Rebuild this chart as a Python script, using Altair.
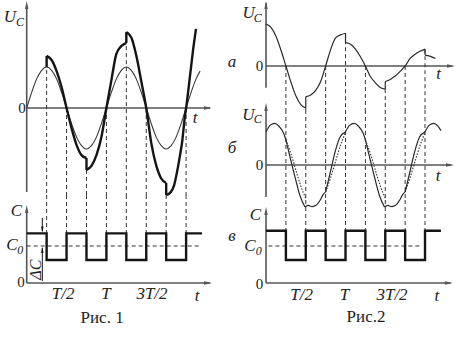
import altair as alt
import pandas as pd

# ================= DATA =================
# ---- Рис. 1 (t in units of T, U in units of the free amplitude) ----
L_thin_t = [0, .0625, .125, .1875, .25, .3125, .375, .4375, .5, .5625, .625, .6875,
            .75, .8125, .875, .9375, 1.0, 1.0625, 1.125, 1.1875, 1.25, 1.3125, 1.375,
            1.4375, 1.5, 1.5625, 1.625, 1.6875, 1.75, 1.8125, 1.875, 1.9375, 2.0,
            2.0625, 2.125, 2.175]
L_thin_u = [0, .38, .71, .92, 1, .92, .71, .38, 0, -.38, -.71, -.92,
            -1, -.92, -.71, -.38, 0, .38, .71, .92, 1, .92, .71,
            .38, 0, -.38, -.71, -.92, -1, -.92, -.71, -.38, 0,
            .38, .71, .90]
L_thick = {
    "A": ([.25, .3125, .375, .4375, .5, .5625, .625, .6875, .75],
          [1.27, 1.17, .90, .51, 0, -.49, -.90, -1.15, -1.22]),
    "B": ([.75, .8125, .875, .9375, 1.0, 1.0625, 1.125, 1.1875, 1.25],
          [-1.51, -1.41, -1.15, -.71, 0, .68, 1.32, 1.51, 1.59]),
    "C": ([1.25, 1.3125, 1.375, 1.4375, 1.5, 1.5625, 1.625, 1.6875, 1.75],
          [1.85, 1.72, 1.28, .65, 0, -.85, -1.40, -1.72, -1.83]),
    "D": ([1.75, 1.8, 1.85, 1.886, 1.924, 1.95, 1.987, 2.0, 2.05, 2.087, 2.124],
          [-2.12, -2.07, -1.88, -1.56, -1.15, -.83, -.17, 0, .80, 1.41, 1.93]),
}
L_jump_t = [.25, .75, 1.25, 1.75]
L_jump_from = [1.0, -1.22, 1.59, -1.83]
L_jump_to = [1.27, -1.51, 1.85, -2.12]
L_mark_t = [.25, .5, .75, 1.0, 1.25, 1.5, 1.75, 2.0]
L_mark_u = [1.27, 0, -1.51, 0, 1.85, 0, -2.12, 0]
L_C_t = [0, .25, .5, .75, 1.0, 1.25, 1.5, 1.75, 2.0, 2.2]
L_C_v = [1.34, .62, 1.34, .62, 1.34, .62, 1.34, .62, 1.34, 1.34]
L_C0 = 1.0

# ---- Рис. 2 ----
Ra = {
    "1": ([0, .0625, .125, .1875, .25, .3125, .375, .4375, .5],
          [1.0, .92, .71, .38, 0, -.38, -.71, -.92, -1.0]),
    "2": ([.5, .5625, .625, .6875, .75, .8125, .875, .9375, 1.0],
          [-.73, -.69, -.58, -.37, 0, .39, .67, .74, .78]),
    "3": ([1.0, 1.0625, 1.125, 1.1875, 1.25, 1.3125, 1.375, 1.4375, 1.5],
          [.555, .52, .40, .22, 0, -.25, -.40, -.51, -.55]),
    "4": ([1.5, 1.5625, 1.625, 1.6875, 1.75, 1.8125, 1.875, 1.9375, 2.0],
          [-.37, -.32, -.24, -.13, 0, .18, .28, .35, .40]),
    "5": ([2.0, 2.05, 2.13], [.26, .24, .18]),
}
Ra_jump_t = [.5, 1.0, 1.5, 2.0]
Ra_jump_from = [-1.0, .78, -.55, .40]
Ra_jump_to = [-.73, .555, -.37, .26]
Ra_mark_u = [0, -1.0, 0, .78, 0, -.55, 0, .40]

Rb = {
    "1": ([0, .054, .109, .16, .223, .25], [.79, .95, .99, .93, .75, .60]),
    "2": ([.25, .306, .369, .431, .49], [.60, .16, -.32, -.75, -1.0]),
    "3": ([.49, .53, .58, .63, .68, .72, .75], [-1.0, -.96, -.99, -.96, -.84, -.70, -.64]),
    "4": ([.75, .81, .87, .93, 1.0], [-.64, -.16, .32, .66, .79]),
    "5": ([1.0, 1.054, 1.109, 1.16, 1.223, 1.25], [.79, .95, .99, .93, .75, .60]),
    "6": ([1.25, 1.306, 1.369, 1.431, 1.49], [.60, .16, -.32, -.75, -1.0]),
    "7": ([1.49, 1.53, 1.58, 1.63, 1.68, 1.72, 1.75], [-1.0, -.96, -.99, -.96, -.84, -.70, -.64]),
    "8": ([1.75, 1.81, 1.87, 1.93, 2.0], [-.64, -.16, .32, .66, .79]),
    "9": ([2.0, 2.054, 2.109, 2.16, 2.2], [.79, .95, .99, .93, .82]),
}
Rb_dot = {
    "1": ([.25, .3125, .375, .4375, .5], [.60, .27, -.12, -.50, -.79]),
    "2": ([.75, .8125, .875, .9375, 1.0], [-.64, -.30, .09, .47, .77]),
    "3": ([1.25, 1.3125, 1.375, 1.4375, 1.5], [.60, .27, -.12, -.50, -.79]),
    "4": ([1.75, 1.8125, 1.875, 1.9375, 2.0], [-.64, -.30, .09, .47, .77]),
}
R_C_t = [0, .25, .5, .75, 1.0, 1.25, 1.5, 1.75, 2.0, 2.2]
R_C_v = [1.41, .62, 1.41, .62, 1.41, .62, 1.41, .62, 1.41, 1.41]
R_C0 = 1.0

tick_labels = ["T/2", "T", "3T/2"]

# ================= STYLE / HELPERS =================
FONT = "Liberation Serif, DejaVu Serif, serif"
AX = "#555555"
INK = "#151515"
UP = "M0,-1L0.42,1L-0.42,1Z"
DOWN = "M0,1L0.42,-1L-0.42,-1Z"
RIGHT = "M1,0L-1,0.42L-1,-0.42Z"
DASH = [4, 3]


def sc(lo, hi):
    return alt.Scale(domain=[lo, hi], nice=False, zero=False)


def X(s):
    return alt.X("t:Q", scale=s, axis=None)


def Y(s, f="v"):
    return alt.Y(f + ":Q", scale=s, axis=None)


def segs(d):
    rows = []
    for k, (ts, vs) in d.items():
        for t, v in zip(ts, vs):
            rows.append({"seg": k, "t": t, "v": v})
    return pd.DataFrame(rows)


def curve(d, xs, ys, width, color, dash=None, interp="monotone"):
    kw = dict(interpolate=interp, strokeWidth=width, color=color)
    if dash:
        kw["strokeDash"] = dash
    return alt.Chart(segs(d)).mark_line(**kw).encode(
        x=X(xs), y=Y(ys), detail="seg:N")


def vrules(ts, a, b, xs, ys, width, color, dash=None):
    df = pd.DataFrame({"t": ts, "v": a, "v2": b})
    kw = dict(strokeWidth=width, color=color)
    if dash:
        kw["strokeDash"] = dash
    return alt.Chart(df).mark_rule(**kw).encode(
        x=X(xs), y=Y(ys), y2="v2:Q")


def hrule(t1, t2, v, xs, ys, width, color, dash=None):
    df = pd.DataFrame({"t": [t1], "t2": [t2], "v": [v]})
    kw = dict(strokeWidth=width, color=color)
    if dash:
        kw["strokeDash"] = dash
    return alt.Chart(df).mark_rule(**kw).encode(
        x=X(xs), x2="t2:Q", y=Y(ys))


def arrow(t, v, shape, xs, ys, size=64, color=AX):
    df = pd.DataFrame({"t": [t], "v": [v]})
    return alt.Chart(df).mark_point(shape=shape, filled=True, size=size,
                                    color=color, opacity=1, strokeWidth=0).encode(
        x=X(xs), y=Y(ys))


def txt(t, v, s, xs, ys, size=16, italic=True, angle=0, align="center"):
    df = pd.DataFrame({"t": [t], "v": [v], "s": [s]})
    kw = dict(font=FONT, fontSize=size, align=align, baseline="middle",
              color="#222222")
    if italic:
        kw["fontStyle"] = "italic"
    if angle:
        kw["angle"] = angle
    return alt.Chart(df).mark_text(**kw).encode(x=X(xs), y=Y(ys), text="s:N")


def square(ts, vs, xs, ys):
    df = pd.DataFrame({"t": ts, "v": vs})
    return alt.Chart(df).mark_line(interpolate="step-after", strokeWidth=2.4,
                                   color=INK).encode(x=X(xs), y=Y(ys))


# Each group spans the whole canvas with its own (independent) scales.
# ================= Рис. 1 =================
LX = sc(-0.335, 5.612)
LY1 = sc(-5.683, 2.634)
LY2 = sc(-1.568, 7.649)

thin_df = {"thin": (L_thin_t, L_thin_u)}
l_top = alt.layer(
    vrules([0], [-2.05], [2.5], LX, LY1, 1.6, AX),
    hrule(0, 2.3, 0, LX, LY1, 1.6, AX),
    arrow(0, 2.51, UP, LX, LY1),
    arrow(2.275, 0, RIGHT, LX, LY1),
    vrules(L_mark_t, L_mark_u, [-2.122] * len(L_mark_t), LX, LY1, 1, "#333", DASH),
    curve(thin_df, LX, LY1, 1.1, "#3a3a3a"),
    curve(L_thick, LX, LY1, 2.4, INK),
    vrules(L_jump_t, L_jump_from, L_jump_to, LX, LY1, 2.4, INK),
    txt(-0.21, 2.22, "U", LX, LY1, 17),
    txt(-0.085, 2.10, "C", LX, LY1, 12),
    txt(-0.059, 0, "0", LX, LY1, 15, italic=False),
    txt(2.114, -0.256, "t", LX, LY1, 17),
)

l_bot = alt.layer(
    vrules(L_mark_t, [2.378] * len(L_mark_t), [L_C_v[0]] * len(L_mark_t), LX, LY2, 1, "#333", DASH),
    vrules([0], [0], [1.95], LX, LY2, 1.6, AX),
    hrule(0, 2.3, 0, LX, LY2, 1.6, AX),
    arrow(0, 2.0, UP, LX, LY2),
    arrow(2.275, 0, RIGHT, LX, LY2),
    hrule(0, 2.17, L_C0, LX, LY2, 1, "#333", DASH),
    square(L_C_t, L_C_v, LX, LY2),
    vrules([0.196], [1.76], [1.40], LX, LY2, 1, INK),
    arrow(0.196, 1.449, DOWN, LX, LY2, 36, INK),
    vrules([0.196], [0.05], [0.95], LX, LY2, 1, INK),
    arrow(0.196, 0.892, UP, LX, LY2, 36, INK),
    txt(0.122, 0.36, "ΔC", LX, LY2, 16, angle=270),
    txt(-0.128, 1.946, "C", LX, LY2, 17),
    txt(-0.184, 1.027, "C", LX, LY2, 17),
    txt(-0.08, 0.88, "0", LX, LY2, 12),
    txt(-0.072, 0.027, "0", LX, LY2, 15, italic=False),
    txt(0.456, -0.30, tick_labels[0], LX, LY2, 17),
    txt(0.995, -0.30, tick_labels[1], LX, LY2, 17),
    txt(1.572, -0.30, tick_labels[2], LX, LY2, 17),
    txt(2.137, -0.35, "t", LX, LY2, 17),
    txt(0.946, -0.946, "Рис. 1", LX, LY2, 17, italic=False),
)

# ================= Рис. 2 =================
RX = sc(-3.346, 2.616)
RYa = sc(-6.548, 1.571)
RYb = sc(-4.190, 3.929)
RYc = sc(-1.568, 7.649)

r_a = alt.layer(
    vrules([0], [-0.52], [1.5], RX, RYa, 1.6, AX),
    hrule(0, 2.34, 0, RX, RYa, 1.6, AX),
    arrow(0, 1.452, UP, RX, RYa),
    arrow(2.327, 0, RIGHT, RX, RYa),
    vrules(L_mark_t, Ra_mark_u, [-1.048] * 8, RX, RYa, 1, "#333", DASH),
    curve(Ra, RX, RYa, 1.2, "#2a2a2a"),
    vrules(Ra_jump_t, Ra_jump_from, Ra_jump_to, RX, RYa, 1.2, "#2a2a2a"),
    txt(-0.218, 1.255, "U", RX, RYa, 17),
    txt(-0.105, 1.145, "C", RX, RYa, 12),
    txt(-0.082, 0, "0", RX, RYa, 15, italic=False),
    txt(2.17, -0.19, "t", RX, RYa, 17),
    txt(-0.428, 0.095, "а", RX, RYa, 17),
)

r_b = alt.layer(
    vrules([0], [-0.76], [1.36], RX, RYb, 1.6, AX),
    hrule(0, 2.33, 0, RX, RYb, 1.6, AX),
    arrow(0, 1.381, UP, RX, RYb),
    arrow(2.314, 0, RIGHT, RX, RYb),
    vrules(L_mark_t, [1.31] * 8, [-0.833] * 8, RX, RYb, 1, "#333", DASH),
    curve(Rb_dot, RX, RYb, 1.1, "#333", [1.5, 1.5]),
    curve(Rb, RX, RYb, 1.2, "#2a2a2a"),
    txt(-0.223, 1.19, "U", RX, RYb, 17),
    txt(-0.105, 1.085, "C", RX, RYb, 12),
    txt(-0.082, 0, "0", RX, RYb, 15, italic=False),
    txt(2.164, -0.26, "t", RX, RYb, 17),
    txt(-0.428, 0.405, "б", RX, RYb, 17),
)

r_c = alt.layer(
    vrules(L_mark_t, [2.243] * 8, [R_C_v[0]] * 8, RX, RYc, 1, "#333", DASH),
    vrules([0], [0], [1.9], RX, RYc, 1.6, AX),
    hrule(0, 2.32, 0, RX, RYc, 1.6, AX),
    arrow(0, 1.946, UP, RX, RYc),
    arrow(2.30, 0, RIGHT, RX, RYc),
    hrule(0.03, 1.93, R_C0, RX, RYc, 1, "#333", DASH),
    square(R_C_t, R_C_v, RX, RYc),
    txt(-0.132, 1.85, "C", RX, RYc, 17),
    txt(-0.201, 1.0, "C", RX, RYc, 17),
    txt(-0.09, 0.855, "0", RX, RYc, 12),
    txt(-0.082, -0.03, "0", RX, RYc, 15, italic=False),
    txt(0.447, -0.32, tick_labels[0], RX, RYc, 17),
    txt(0.987, -0.32, tick_labels[1], RX, RYc, 17),
    txt(1.585, -0.32, tick_labels[2], RX, RYc, 17),
    txt(2.15, -0.35, "t", RX, RYc, 17),
    txt(1.258, -0.92, "Рис.2", RX, RYc, 17, italic=False),
    txt(-0.428, 1.27, "в", RX, RYc, 17),
)

chart = alt.layer(l_top, l_bot, r_a, r_b, r_c).resolve_scale(
    x="independent", y="independent"
).properties(
    width=474, height=341, padding=0, background="white",
    autosize=alt.AutoSizeParams(type="none"),
).configure_view(stroke=None)

chart.save("out.html", embed_options={"renderer": "svg", "actions": False})
